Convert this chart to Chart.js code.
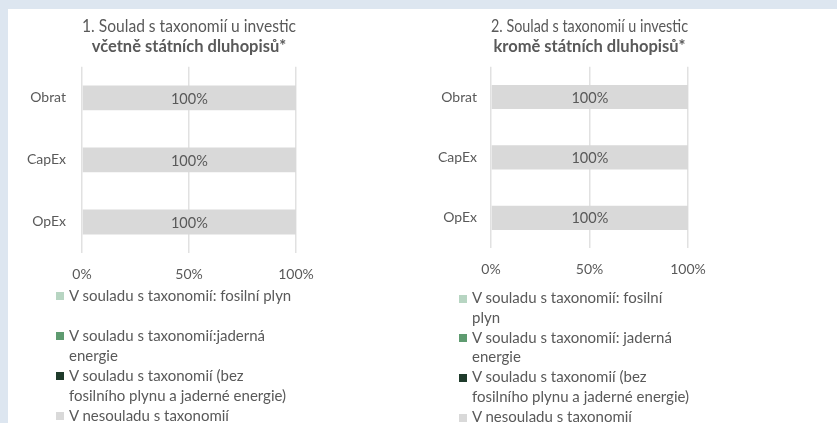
<!DOCTYPE html>
<html>
<head>
<meta charset="utf-8">
<script src="https://cdn.jsdelivr.net/npm/chart.js@4"></script>
<style>
  html, body { margin: 0; padding: 0; }
  body { width: 837px; height: 423px; background: #dde6f0; position: relative; overflow: hidden; font-family: Lato, "Open Sans", sans-serif; }
  #panel { position: absolute; left: 8px; top: 9px; right: 0; bottom: 0; background: #ffffff; }
  .cv { position: absolute; }
  .legend { position: absolute; color: #595959; font-family: Lato, sans-serif; font-size: 15px; }
  .legend .item { position: relative; }
  .legend .mk { position: absolute; width: 8px; height: 8px; }
</style>
</head>
<body>
<div id="panel"></div>
<div class="cv" style="left:0px;top:0px;width:420px;height:296px;"><canvas id="c1"></canvas></div>
<div class="cv" style="left:420px;top:0px;width:417px;height:291px;"><canvas id="c2"></canvas></div>
<div id="lg1" class="legend" style="left:56px;top:285px;"></div>
<div id="lg2" class="legend" style="left:459px;top:288px;"></div>
<script>
// ---- data ----
const categories = ['Obrat', 'CapEx', 'OpEx'];
const xTickValues = [0, 50, 100];

const title1 = '1. Soulad s taxonomií u investic';
const subtitle1 = 'včetně státních dluhopisů*';
const title2 = '2. Soulad s taxonomií u investic';
const subtitle2 = 'kromě státních dluhopisů*';

// chart 1 (including sovereign bonds)
const fossilGas1 = [0, 0, 0];
const nuclear1 = [0, 0, 0];
const alignedOther1 = [0, 0, 0];
const notAligned1 = [100, 100, 100];
// chart 2 (excluding sovereign bonds)
const fossilGas2 = [0, 0, 0];
const nuclear2 = [0, 0, 0];
const alignedOther2 = [0, 0, 0];
const notAligned2 = [100, 100, 100];

const seriesNames1 = [
  ['V souladu s taxonomií: fosilní plyn'],
  ['V souladu s taxonomií:jaderná', 'energie'],
  ['V souladu s taxonomií (bez', 'fosilního plynu a jaderné energie)'],
  ['V nesouladu s taxonomií']
];
const seriesNames2 = [
  ['V souladu s taxonomií: fosilní', 'plyn'],
  ['V souladu s taxonomií: jaderná', 'energie'],
  ['V souladu s taxonomií (bez', 'fosilního plynu a jaderné energie)'],
  ['V nesouladu s taxonomií']
];
const seriesColors = ['#b7d5c2', '#5e9b70', '#1f3b2b', '#d9d9d9'];

// ---- helpers ----
const TXT = '#595959';
const FONT = 'Lato, "Open Sans", sans-serif';

const valueLabels = {
  id: 'valueLabels',
  afterDatasetsDraw(chart) {
    const ctx = chart.ctx;
    ctx.save();
    ctx.font = '14.5px ' + FONT;
    ctx.fillStyle = TXT;
    ctx.textAlign = 'center';
    ctx.textBaseline = 'middle';
    chart.data.datasets.forEach((ds, i) => {
      const meta = chart.getDatasetMeta(i);
      meta.data.forEach((el, j) => {
        const v = ds.data[j];
        if (!v) return;
        const p = el.getCenterPoint();
        ctx.fillText(v + '%', p.x, p.y + 1);
      });
    });
    ctx.restore();
  }
};

function makeChart(id, title, subtitle, seriesData, names, yWidth, yPad, padRight, padBottom) {
  const datasets = seriesData.map((d, i) => ({
    label: names[i].join(' '),
    data: d,
    backgroundColor: seriesColors[i],
    borderWidth: 0,
    barPercentage: 0.5,
    categoryPercentage: 0.8
  }));
  return new Chart(document.getElementById(id), {
    type: 'bar',
    data: { labels: categories, datasets },
    options: {
      indexAxis: 'y',
      responsive: true,
      maintainAspectRatio: false,
      animation: false,
      layout: { padding: { left: 0, right: padRight, top: 0, bottom: padBottom } },
      plugins: {
        legend: { display: false },
        tooltip: { enabled: false },
        title: {
          display: true, text: title, color: TXT, fullSize: false,
          font: { family: FONT, size: 16.5, weight: 'normal', lineHeight: 1.2 },
          padding: { top: 17, bottom: 0 }
        },
        subtitle: {
          display: true, text: subtitle, color: TXT, fullSize: false,
          font: { family: FONT, size: 16.5, weight: 'bold', lineHeight: 1.2 },
          padding: { top: 0.3, bottom: 9.9 }
        }
      },
      scales: {
        x: {
          stacked: true, min: 0, max: 100,
          afterBuildTicks: (s) => { s.ticks = xTickValues.map(v => ({ value: v })); },
          ticks: { callback: (v) => v + '%', color: TXT, font: { family: FONT, size: 14 }, padding: 13 },
          grid: { color: '#e1e1e1', lineWidth: 1.5, drawTicks: false },
          border: { display: false }
        },
        y: {
          stacked: true,
          afterFit: (s) => { s.width = yWidth; },
          ticks: { color: TXT, font: { family: FONT, size: 14 }, padding: yPad },
          grid: { display: false, drawTicks: false },
          border: { display: false }
        }
      }
    },
    plugins: [valueLabels]
  });
}

function buildLegend(elId, chart, names, lineH) {
  const box = document.getElementById(elId);
  chart.data.datasets.forEach((ds, i) => {
    const item = document.createElement('div');
    item.className = 'item';
    item.style.lineHeight = lineH + 'px';
    item.style.paddingLeft = '13px';
    if (i < names.length - 1) item.style.minHeight = (2 * lineH) + 'px';
    item.style.whiteSpace = 'nowrap';
    const mk = document.createElement('span');
    mk.className = 'mk';
    mk.style.background = ds.backgroundColor;
    mk.style.left = '0px';
    mk.style.top = (lineH / 2 - 3) + 'px';
    item.appendChild(mk);
    names[i].forEach((line, k) => {
      if (k > 0) item.appendChild(document.createElement('br'));
      item.appendChild(document.createTextNode(line));
    });
    box.appendChild(item);
  });
}

const ch1 = makeChart('c1', title1, subtitle1,
  [fossilGas1, nuclear1, alignedOther1, notAligned1], seriesNames1, 82, 16, 124, 0.2);
const ch2 = makeChart('c2', title2, subtitle2,
  [fossilGas2, nuclear2, alignedOther2, notAligned2], seriesNames2, 71, 14, 149, 0.2);

buildLegend('lg1', ch1, seriesNames1, 20);
buildLegend('lg2', ch2, seriesNames2, 19.8);
</script>
</body>
</html>
